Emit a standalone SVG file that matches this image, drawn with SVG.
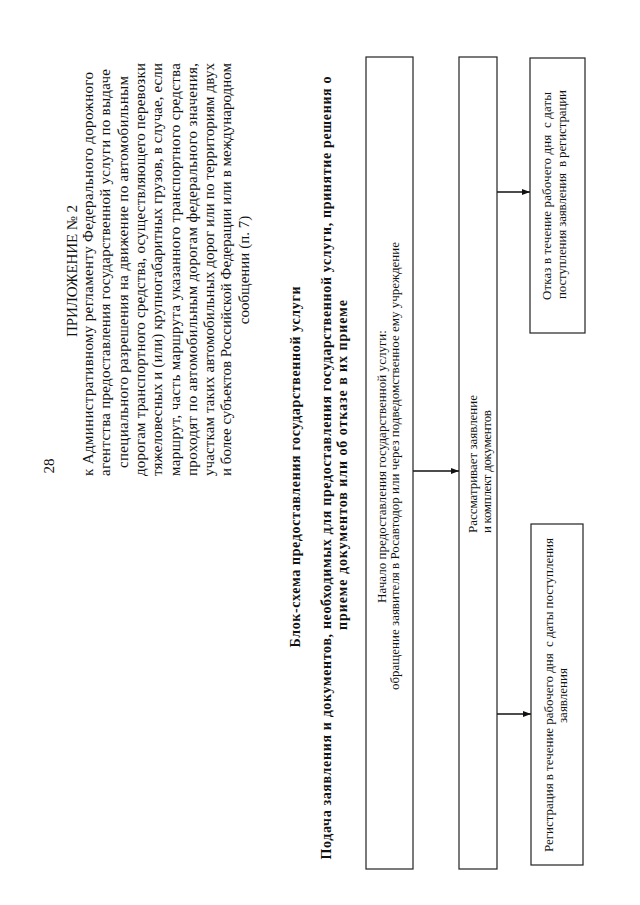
<svg xmlns="http://www.w3.org/2000/svg" width="640" height="905" viewBox="0 0 640 905">
<style>
.hd{font-family:"Liberation Serif","Times New Roman",serif;font-size:15px;fill:#111}
.tt{font-family:"Liberation Serif","Times New Roman",serif;font-size:14px;font-weight:bold;fill:#111}
.bx{font-family:"Liberation Serif","Times New Roman",serif;font-size:13px;fill:#111;white-space:pre}
.m{text-anchor:middle}
.box{fill:#fff;stroke:#222;stroke-width:1.2}
.ln{stroke:#111;stroke-width:1.4;fill:none}
</style>
<defs>
<marker id="ah" markerWidth="8" markerHeight="6" refX="8" refY="3" orient="auto" markerUnits="userSpaceOnUse">
<path d="M0,0 L8,3 L0,6 Z" fill="#111"/>
</marker>
</defs>
<rect width="640" height="905" fill="#fff"/>
<g id="header">
<text class="hd m" x="54" y="466" transform="rotate(-90 54 466)">28</text>
<text class="hd m" x="77" y="271" transform="rotate(-90 77 271)" textLength="132">ПРИЛОЖЕНИЕ № 2</text>
<text class="hd m" x="93" y="274" transform="rotate(-90 93 274)" textLength="404">к Административному регламенту Федерального дорожного</text>
<text class="hd m" x="110.3" y="272.5" transform="rotate(-90 110.3 272.5)" textLength="407">агентства предоставления государственной услуги по выдаче</text>
<text class="hd m" x="127.6" y="272" transform="rotate(-90 127.6 272)" textLength="392">специального разрешения на движение по автомобильным</text>
<text class="hd m" x="144.9" y="269.5" transform="rotate(-90 144.9 269.5)" textLength="413">дорогам транспортного средства, осуществляющего перевозки</text>
<text class="hd m" x="162.2" y="269.5" transform="rotate(-90 162.2 269.5)" textLength="413">тяжеловесных и (или) крупногабаритных грузов, в случае, если</text>
<text class="hd m" x="179.5" y="269.5" transform="rotate(-90 179.5 269.5)" textLength="413">маршрут, часть маршрута указанного транспортного средства</text>
<text class="hd m" x="196.8" y="269.5" transform="rotate(-90 196.8 269.5)" textLength="413">проходят по автомобильным дорогам федерального значения,</text>
<text class="hd m" x="214.1" y="269.5" transform="rotate(-90 214.1 269.5)" textLength="413">участкам таких автомобильных дорог или по территориям двух</text>
<text class="hd m" x="231.4" y="269.5" transform="rotate(-90 231.4 269.5)" textLength="413">и более субъектов Российской Федерации или в международном</text>
<text class="hd m" x="248.7" y="270" transform="rotate(-90 248.7 270)">сообщении (п. 7)</text>
</g>
<g id="title">
<text class="tt m" x="300" y="467" transform="rotate(-90 300 467)" textLength="361">Блок-схема предоставления государственной услуги</text>
<text class="tt m" x="331" y="468" transform="rotate(-90 331 468)" textLength="783">Подача заявления и документов, необходимых для предоставления государственной услуги, принятие решения о</text>
<text class="tt m" x="347" y="465" transform="rotate(-90 347 465)" textLength="330">приеме документов или об отказе в их приеме</text>
</g>
<g id="connectors">
<line class="ln" x1="413" y1="471" x2="459" y2="471" marker-end="url(#ah)"/>
<line class="ln" x1="497" y1="192" x2="530" y2="192" marker-end="url(#ah)"/>
<line class="ln" x1="497" y1="714" x2="531" y2="714" marker-end="url(#ah)"/>
</g>
<g id="start">
<rect class="box" x="366" y="57" width="47" height="812"/>
<text class="bx m" x="386" y="466.5" transform="rotate(-90 386 466.5)" textLength="273">Начало предоставления государственной услуги:</text>
<text class="bx m" x="399" y="466" transform="rotate(-90 399 466)" textLength="448">обращение заявителя в Росавтодор или через подведомственное ему учреждение</text>
</g>
<g id="review">
<rect class="box" x="459" y="57" width="38" height="812"/>
<text class="bx" x="477" y="533" transform="rotate(-90 477 533)" textLength="138">Рассматривает заявление</text>
<text class="bx" x="491" y="533" transform="rotate(-90 491 533)" textLength="123">и комплект документов</text>
</g>
<g id="refuse">
<rect class="box" x="530" y="58" width="55" height="275"/>
<text class="bx m" x="551" y="196" transform="rotate(-90 551 196)" textLength="208">Отказ в течение рабочего дня  с даты</text>
<text class="bx m" x="566" y="194.5" transform="rotate(-90 566 194.5)" textLength="209">поступления заявления  в регистрации</text>
</g>
<g id="register">
<rect class="box" x="531" y="524" width="52" height="341"/>
<text class="bx m" x="553" y="695" transform="rotate(-90 553 695)" textLength="314">Регистрация в течение рабочего дня  с даты поступления</text>
<text class="bx m" x="567" y="695.5" transform="rotate(-90 567 695.5)">заявления</text>
</g>
</svg>
